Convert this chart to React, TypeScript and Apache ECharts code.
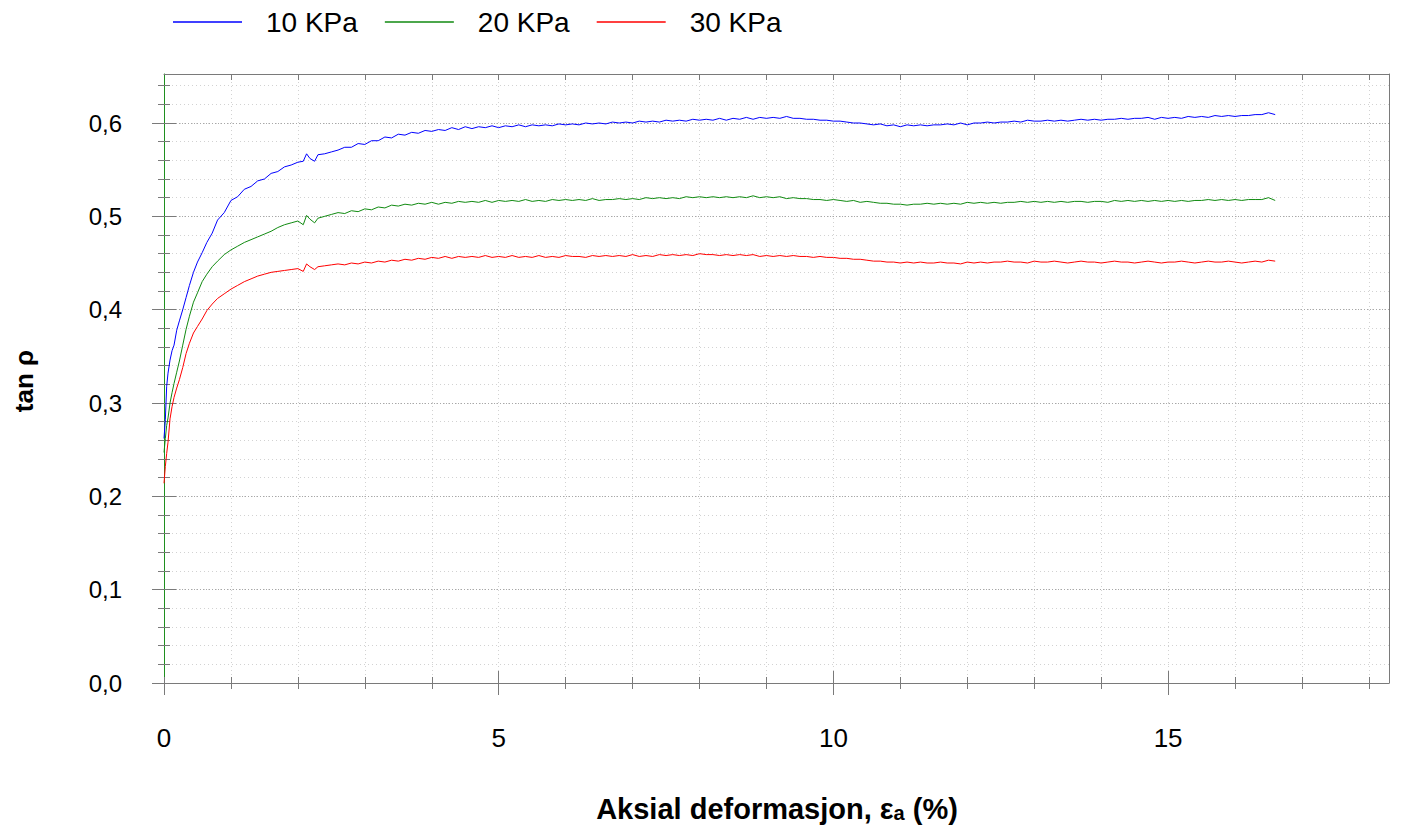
import React, { useEffect, useRef } from 'react';
import * as echarts from 'echarts';

// Axial strain (%) sample positions
const strain = [
  0, 0.02, 0.04, 0.06, 0.09, 0.12, 0.15, 0.19, 0.23, 0.28,
  0.33, 0.38, 0.44, 0.5, 0.57, 0.64, 0.72, 0.8, 0.9, 1.0,
  1.1, 1.2, 1.3, 1.4, 1.5, 1.6, 1.7, 1.8, 1.9, 2.0,
  2.08, 2.13, 2.18, 2.25, 2.3, 2.4, 2.5,
  2.6, 2.7, 2.8, 2.9, 3.0, 3.1, 3.2, 3.3, 3.4, 3.5,
  3.6, 3.7, 3.8, 3.9, 4.0, 4.1, 4.2, 4.3, 4.4, 4.5,
  4.6, 4.7, 4.8, 4.9, 5.0, 5.1, 5.2, 5.3, 5.4, 5.5,
  5.6, 5.7, 5.8, 5.9, 6.0, 6.1, 6.2, 6.3, 6.4, 6.5,
  6.6, 6.7, 6.8, 6.9, 7.0, 7.1, 7.2, 7.3, 7.4, 7.5,
  7.6, 7.7, 7.8, 7.9, 8.0, 8.1, 8.2, 8.3, 8.4, 8.5,
  8.6, 8.7, 8.8, 8.9, 9.0, 9.1, 9.2, 9.3, 9.4, 9.5,
  9.6, 9.7, 9.8, 9.9, 10.0, 10.1, 10.2, 10.3, 10.4, 10.5,
  10.6, 10.7, 10.8, 10.9, 11.0, 11.1, 11.2, 11.3, 11.4, 11.5,
  11.6, 11.7, 11.8, 11.9, 12.0, 12.1, 12.2, 12.3, 12.4, 12.5,
  12.6, 12.7, 12.8, 12.9, 13.0, 13.1, 13.2, 13.3, 13.4, 13.5,
  13.6, 13.7, 13.8, 13.9, 14.0, 14.1, 14.2, 14.3, 14.4, 14.5,
  14.6, 14.7, 14.8, 14.9, 15.0, 15.1, 15.2, 15.3, 15.4, 15.5,
  15.6, 15.7, 15.8, 15.9, 16.0, 16.1, 16.2, 16.3, 16.4, 16.5,
  16.6,
];

const tan10 = [
  0.262, 0.282, 0.318, 0.332, 0.346, 0.356, 0.362, 0.378, 0.388, 0.400,
  0.413, 0.426, 0.440, 0.451, 0.461, 0.472, 0.482, 0.496, 0.504, 0.517,
  0.521, 0.529, 0.532, 0.538, 0.540, 0.546, 0.548, 0.553, 0.555, 0.558,
  0.559, 0.567, 0.562, 0.559, 0.566, 0.567, 0.569,
  0.571, 0.574, 0.574, 0.578, 0.577, 0.581, 0.581, 0.585, 0.584, 0.588,
  0.587, 0.590, 0.589, 0.592, 0.591, 0.593, 0.592, 0.595, 0.593, 0.596,
  0.594, 0.596, 0.595, 0.597, 0.595, 0.597, 0.596, 0.598, 0.596, 0.598,
  0.597, 0.598, 0.597, 0.599, 0.598, 0.599, 0.598, 0.600, 0.599, 0.600,
  0.599, 0.601, 0.600, 0.601, 0.600, 0.602, 0.601, 0.602, 0.601, 0.603,
  0.602, 0.603, 0.602, 0.604, 0.603, 0.604, 0.603, 0.605, 0.603, 0.605,
  0.604, 0.606, 0.604, 0.606, 0.605, 0.606, 0.605, 0.607, 0.605, 0.605,
  0.604, 0.604, 0.603, 0.603, 0.602, 0.602, 0.601, 0.600, 0.600, 0.599,
  0.598, 0.599, 0.597, 0.598, 0.596, 0.598, 0.597, 0.598, 0.597, 0.598,
  0.598, 0.599, 0.598, 0.600, 0.598, 0.600, 0.600, 0.601, 0.600, 0.601,
  0.601, 0.602, 0.601, 0.603, 0.602, 0.602, 0.603, 0.602, 0.603, 0.602,
  0.603, 0.604, 0.603, 0.604, 0.603, 0.604, 0.604, 0.605, 0.604, 0.605,
  0.605, 0.606, 0.604, 0.606, 0.605, 0.606, 0.605, 0.607, 0.606, 0.607,
  0.606, 0.608, 0.607, 0.608, 0.607, 0.608, 0.608, 0.609, 0.609, 0.611,
  0.609,
];

const tan20 = [
  0.247, 0.262, 0.276, 0.284, 0.300, 0.311, 0.321, 0.333, 0.345, 0.362,
  0.379, 0.393, 0.408, 0.418, 0.430, 0.438, 0.446, 0.452, 0.459, 0.464,
  0.468, 0.472, 0.475, 0.478, 0.481, 0.484, 0.488, 0.491, 0.493, 0.495,
  0.491, 0.501, 0.497, 0.493, 0.498, 0.500, 0.502,
  0.504, 0.503, 0.506, 0.505, 0.508, 0.507, 0.510, 0.509, 0.512, 0.511,
  0.513, 0.512, 0.514, 0.513, 0.515, 0.513, 0.515, 0.514, 0.516, 0.515,
  0.516, 0.515, 0.517, 0.515, 0.517, 0.516, 0.517, 0.516, 0.518, 0.516,
  0.517, 0.516, 0.518, 0.517, 0.518, 0.517, 0.518, 0.517, 0.519, 0.517,
  0.518, 0.518, 0.519, 0.518, 0.519, 0.518, 0.520, 0.519, 0.520, 0.519,
  0.520, 0.519, 0.521, 0.520, 0.521, 0.520, 0.521, 0.520, 0.521, 0.520,
  0.521, 0.520, 0.522, 0.520, 0.521, 0.520, 0.521, 0.519, 0.520, 0.519,
  0.519, 0.518, 0.518, 0.517, 0.518, 0.517, 0.516, 0.517, 0.515, 0.516,
  0.515, 0.514, 0.514, 0.513, 0.513, 0.512, 0.513, 0.513, 0.514, 0.513,
  0.514, 0.513, 0.514, 0.513, 0.515, 0.514, 0.515, 0.514, 0.515, 0.514,
  0.515, 0.515, 0.516, 0.515, 0.516, 0.515, 0.516, 0.515, 0.516, 0.515,
  0.516, 0.516, 0.515, 0.516, 0.516, 0.515, 0.517, 0.516, 0.517, 0.516,
  0.517, 0.516, 0.517, 0.516, 0.517, 0.516, 0.517, 0.516, 0.517, 0.517,
  0.518, 0.517, 0.518, 0.517, 0.518, 0.517, 0.518, 0.518, 0.518, 0.520,
  0.517,
];

const tan30 = [
  0.214, 0.232, 0.246, 0.258, 0.283, 0.296, 0.306, 0.316, 0.325, 0.338,
  0.353, 0.364, 0.375, 0.382, 0.390, 0.399, 0.406, 0.412, 0.417, 0.422,
  0.426, 0.430, 0.433, 0.436, 0.438, 0.440, 0.441, 0.442, 0.443, 0.444,
  0.441, 0.449, 0.446, 0.443, 0.446, 0.447, 0.448,
  0.449, 0.448, 0.450, 0.449, 0.451, 0.450, 0.452, 0.451, 0.453, 0.452,
  0.454, 0.453, 0.455, 0.454, 0.456, 0.455, 0.457, 0.455, 0.457, 0.456,
  0.457, 0.456, 0.458, 0.456, 0.457, 0.456, 0.458, 0.456, 0.457, 0.456,
  0.458, 0.456, 0.457, 0.456, 0.458, 0.457, 0.457, 0.456, 0.458, 0.457,
  0.458, 0.457, 0.458, 0.457, 0.459, 0.457, 0.458, 0.457, 0.459, 0.458,
  0.459, 0.458, 0.459, 0.458, 0.460, 0.459, 0.459, 0.458, 0.459, 0.458,
  0.459, 0.458, 0.459, 0.457, 0.458, 0.457, 0.458, 0.457, 0.458, 0.457,
  0.457, 0.456, 0.457, 0.456, 0.456, 0.455, 0.455, 0.454, 0.454, 0.453,
  0.452, 0.452, 0.451, 0.451, 0.450, 0.451, 0.450, 0.451, 0.450, 0.450,
  0.451, 0.450, 0.450, 0.449, 0.451, 0.450, 0.451, 0.450, 0.451, 0.451,
  0.452, 0.451, 0.451, 0.450, 0.452, 0.451, 0.451, 0.452, 0.451, 0.450,
  0.451, 0.452, 0.451, 0.451, 0.450, 0.451, 0.452, 0.451, 0.451, 0.450,
  0.451, 0.452, 0.451, 0.450, 0.451, 0.451, 0.452, 0.451, 0.450, 0.451,
  0.452, 0.451, 0.451, 0.452, 0.451, 0.450, 0.451, 0.452, 0.451, 0.453,
  0.452,
];

const seriesNames = ['10 KPa', '20 KPa', '30 KPa'];
const seriesColors = ['#0000ff', '#108a10', '#ff0000'];
const xLabelValues = [0, 5, 10, 15];
const xTickValues = [0, 1, 2, 3, 4, 5, 6, 7, 8, 9, 10, 11, 12, 13, 14, 15, 16, 17, 18];
const yLabelValues = [0, 0.1, 0.2, 0.3, 0.4, 0.5, 0.6];
const yTickValues = [
  0, 0.02, 0.04, 0.06, 0.08, 0.1, 0.12, 0.14, 0.16, 0.18, 0.2, 0.22, 0.24, 0.26, 0.28, 0.3,
  0.32, 0.34, 0.36, 0.38, 0.4, 0.42, 0.44, 0.46, 0.48, 0.5, 0.52, 0.54, 0.56, 0.58, 0.6,
  0.62, 0.64,
];

const X_MAX = 18.3;
const Y_MAX = 0.6525;
const FONT = '"Liberation Sans", Arial, sans-serif';
const GRAY = '#7a7a7a';

function xAx(extra: any) {
  return {
    type: 'value', min: 0, max: X_MAX, gridIndex: 0,
    axisLine: { show: false, onZero: false },
    axisLabel: { show: false },
    splitLine: { show: false },
    axisTick: { show: false },
    ...extra,
  };
}
function yAx(extra: any) {
  return {
    type: 'value', min: 0, max: Y_MAX, gridIndex: 0,
    axisLine: { show: false, onZero: false },
    axisLabel: { show: false },
    splitLine: { show: false },
    axisTick: { show: false },
    ...extra,
  };
}

export default function App() {
  const ref = useRef<HTMLDivElement>(null);
  useEffect(() => {
    const chart = echarts.init(ref.current!, null, { renderer: 'svg' });
    const values = [tan10, tan20, tan30];
    const option: any = {
      animation: false,
      backgroundColor: '#ffffff',
      grid: { left: 164, right: 12, top: 74, bottom: 148, containLabel: false, outerBoundsMode: 'none' },
      legend: {
        left: 173, top: 8, padding: 0,
        icon: 'rect',
        itemWidth: 69, itemHeight: 1.5, itemGap: 27,
        data: seriesNames,
        textStyle: { fontSize: 28, fontFamily: FONT, color: '#000', padding: [0, 0, 0, 19] },
      },
      xAxis: [
        xAx({
          position: 'bottom', interval: 1,
          axisLine: { show: true, onZero: false, lineStyle: { color: GRAY, width: 1 } },
          axisTick: { show: true, length: 6, customValues: xTickValues, lineStyle: { color: GRAY } },
          axisLabel: {
            show: true, customValues: xLabelValues, margin: 42, fontSize: 26, fontFamily: FONT, color: '#000',
            formatter: (v: number) => String(v),
          },
          splitLine: { show: true, lineStyle: { color: '#d2d2d2', type: [1, 3], width: 1 } },
        }),
        xAx({ position: 'bottom', interval: 1, axisTick: { show: true, inside: true, length: 6, customValues: xTickValues, lineStyle: { color: GRAY } } }),
        xAx({ position: 'bottom', interval: 5, axisTick: { show: true, length: 12, customValues: xLabelValues, lineStyle: { color: GRAY } } }),
        xAx({ position: 'bottom', interval: 5, axisTick: { show: true, inside: true, length: 12, customValues: [5, 10, 15], lineStyle: { color: GRAY } } }),
        xAx({
          position: 'top', interval: 1,
          axisLine: { show: true, onZero: false, lineStyle: { color: GRAY, width: 1 } },
          axisTick: { show: true, inside: true, length: 6, customValues: xTickValues.slice(1), lineStyle: { color: GRAY } },
        }),
      ],
      yAxis: [
        yAx({
          position: 'left', interval: 0.02,
          axisLine: { show: true, onZero: false, lineStyle: { color: '#1f8f1f', width: 1 } },
          axisTick: { show: true, length: 6, customValues: yTickValues, lineStyle: { color: GRAY } },
          splitLine: { show: true, lineStyle: { color: '#d2d2d2', type: [1, 3], width: 1 } },
        }),
        yAx({ position: 'left', interval: 0.02, axisTick: { show: true, inside: true, length: 6, customValues: yTickValues.slice(1), lineStyle: { color: GRAY } } }),
        yAx({
          position: 'left', interval: 0.1,
          axisTick: { show: true, length: 12, customValues: yLabelValues, lineStyle: { color: GRAY } },
          axisLabel: {
            show: true, customValues: yLabelValues, margin: 42, fontSize: 24, fontFamily: FONT, color: '#000',
            formatter: (v: number) => v.toFixed(1).replace('.', ','),
          },
          splitLine: { show: true, lineStyle: { color: '#a8a8a8', type: [1, 2], width: 1 } },
        }),
        yAx({ position: 'left', interval: 0.1, axisTick: { show: true, inside: true, length: 12, customValues: yLabelValues.slice(1), lineStyle: { color: GRAY } } }),
        yAx({ position: 'right', axisLine: { show: true, onZero: false, lineStyle: { color: GRAY, width: 1 } } }),
      ],
      series: seriesNames.map((name, k) => ({
        name, type: 'line', xAxisIndex: 0, yAxisIndex: 0,
        symbol: 'none', showSymbol: false,
        lineStyle: { color: seriesColors[k], width: 1 },
        itemStyle: { color: seriesColors[k] },
        data: strain.map((x, i) => [x, values[k][i]]),
        z: 5,
      })),
      graphic: [
        {
          type: 'text', x: 777, y: 809,
          style: {
            text: '{b|Aksial deformasjon, ε}{s|a}{b| (%)}',
            align: 'center', verticalAlign: 'middle', fill: '#000',
            rich: {
              b: { fontSize: 29, fontWeight: 'bold', fontFamily: FONT, fill: '#000' },
              s: { fontSize: 20, fontWeight: 'bold', fontFamily: FONT, fill: '#000', padding: [8, 0, 0, 0] },
            },
          },
        },
        {
          type: 'text', x: 24, y: 381, rotation: Math.PI / 2,
          style: {
            text: 'tan ρ', align: 'center', verticalAlign: 'middle', fill: '#000',
            fontSize: 26, fontWeight: 'bold', fontFamily: FONT,
          },
        },
      ],
    };
    chart.setOption(option);
    return () => chart.dispose();
  }, []);
  return (
    <div
      ref={ref}
      style={{ position: 'fixed', left: 0, top: 0, width: 1401, height: 831, background: '#fff' }}
    />
  );
}
